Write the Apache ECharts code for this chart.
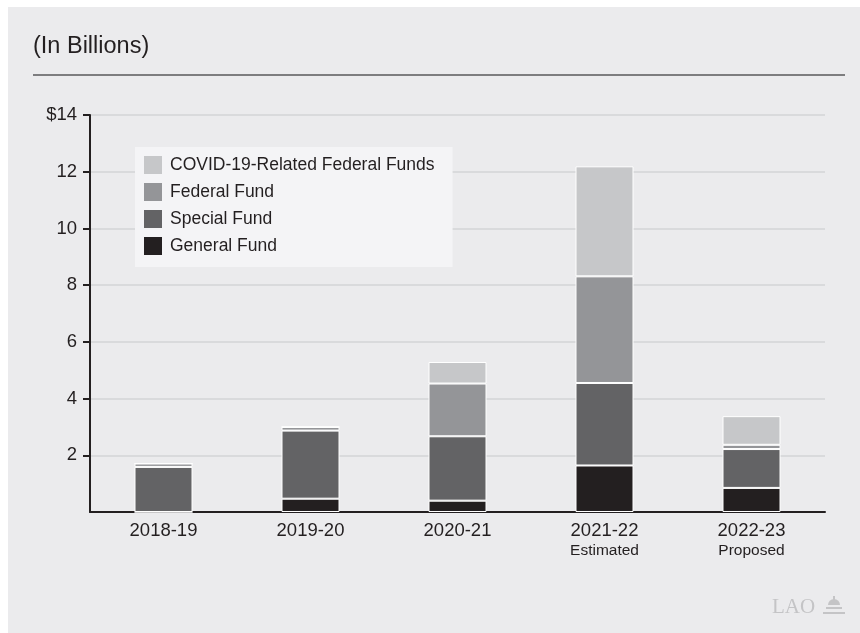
<!DOCTYPE html>
<html>
<head>
<meta charset="utf-8">
<script src="https://cdn.jsdelivr.net/npm/echarts@6/dist/echarts.min.js"></script>
<style>
html,body{margin:0;padding:0;background:#fff;}
#c{width:860px;height:633px;}
</style>
</head>
<body>
<div id="c"></div>
<script>
var categories = ['2018-19', '2019-20', '2020-21', '2021-22', '2022-23'];
var subLabels = ['', '', '', 'Estimated', 'Proposed'];
var generalFund = [0, 0.47, 0.40, 1.64, 0.85];
var specialFund = [1.59, 2.40, 2.27, 2.91, 1.37];
var federalFund = [0.12, 0.13, 1.86, 3.76, 0.15];
var covidFunds = [0, 0, 0.76, 3.88, 1.01];
var yTicks = [2, 4, 6, 8, 10, 12, 14];

var FONT = '"Liberation Sans", Arial, sans-serif';
var chart = echarts.init(document.getElementById('c'), null, {renderer: 'canvas'});

function bar(name, data, color) {
  return {
    name: name, type: 'bar', stack: 'total', data: data, barWidth: 58,
    itemStyle: {color: color, borderColor: '#ffffff', borderWidth: 1},
    emphasis: {disabled: true}
  };
}

chart.setOption({
  backgroundColor: '#ffffff',
  animation: false,
  textStyle: {fontFamily: FONT},
  graphic: [
    {type: 'rect', shape: {x: 8, y: 7, width: 852, height: 626}, style: {fill: '#ebebed'}, z: -10},
    {type: 'text', left: 33, top: 35, style: {text: '(In Billions)', font: '23.5px ' + FONT, fill: '#231f20'}},
    {type: 'line', shape: {x1: 33, y1: 75, x2: 845, y2: 75}, style: {stroke: '#58585a', lineWidth: 1.5}},
    {type: 'text', left: 772, top: 597, style: {text: 'LAO', font: '21px "Liberation Serif", serif', fill: '#c4c4c6'}},
    {type: 'rect', shape: {x: 823, y: 612, width: 22, height: 2}, style: {fill: '#c4c4c6'}},
    {type: 'rect', shape: {x: 826, y: 607, width: 16, height: 2}, style: {fill: '#c4c4c6'}},
    {type: 'sector', shape: {cx: 834, cy: 605, r: 6, r0: 0, startAngle: Math.PI, endAngle: 2 * Math.PI}, style: {fill: '#c4c4c6'}},
    {type: 'rect', shape: {x: 833, y: 596, width: 2, height: 4}, style: {fill: '#c4c4c6'}}
  ],
  legend: {
    orient: 'vertical',
    left: 135, top: 147,
    data: ['COVID-19-Related Federal Funds', 'Federal Fund', 'Special Fund', 'General Fund'],
    backgroundColor: '#f4f4f6',
    padding: [9, 18, 12, 9],
    itemWidth: 18, itemHeight: 18, itemGap: 9,
    icon: 'rect',
    itemStyle: {borderWidth: 0},
    selectedMode: false,
    textStyle: {fontSize: 17.5, lineHeight: 18, color: '#231f20', fontFamily: FONT, padding: [0, 0, 0, 3]}
  },
  grid: {left: 90, right: 35, top: 115, bottom: 121, containLabel: false},
  xAxis: {
    type: 'category',
    data: categories,
    axisLine: {show: true, lineStyle: {color: '#231f20', width: 2}},
    axisTick: {show: false},
    axisLabel: {
      margin: 8,
      color: '#231f20',
      fontSize: 18.5,
      fontFamily: FONT,
      lineHeight: 22,
      formatter: function (v, i) {
        return subLabels[i] ? v + '\n{s|' + subLabels[i] + '}' : v;
      },
      rich: {s: {fontSize: 15.5, color: '#231f20', fontFamily: FONT, lineHeight: 17}}
    }
  },
  yAxis: {
    type: 'value',
    min: 0, max: 14, interval: 2,
    axisLine: {show: true, lineStyle: {color: '#231f20', width: 2}},
    axisTick: {show: true, length: 7, lineStyle: {color: '#231f20', width: 2}, customValues: yTicks},
    axisLabel: {
      color: '#231f20', fontSize: 18.5, fontFamily: FONT, margin: 13,
      customValues: yTicks,
      formatter: function (v) { return v === 0 ? '' : (v === 14 ? '$' + v : String(v)); }
    },
    splitLine: {show: true, lineStyle: {color: '#d3d4d6', width: 1.5}}
  },
  series: [
    bar('General Fund', generalFund, '#231f20'),
    bar('Special Fund', specialFund, '#636365'),
    bar('Federal Fund', federalFund, '#949598'),
    bar('COVID-19-Related Federal Funds', covidFunds, '#c6c7c9')
  ]
});
</script>
</body>
</html>
